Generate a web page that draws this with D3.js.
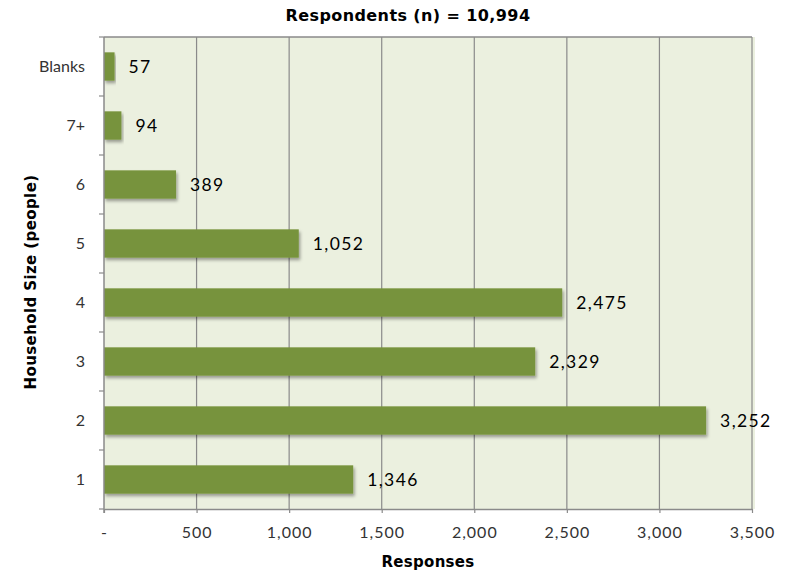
<!DOCTYPE html>
<html>
<head>
<meta charset="utf-8">
<script src="https://cdn.jsdelivr.net/npm/d3@7"></script>
<style>
  html, body { margin: 0; padding: 0; background: #ffffff; }
  svg { display: block; }
  .tick text { font-family: "Lato", "Open Sans", sans-serif; }
</style>
</head>
<body>
<svg id="chart" width="789" height="573"></svg>
<script>
// Household size categories, top to bottom
const categories = ["Blanks", "7+", "6", "5", "4", "3", "2", "1"];
// Number of responses per category
const responses = [57, 94, 389, 1052, 2475, 2329, 3252, 1346];
// X axis tick values and labels
const xTicks = [0, 500, 1000, 1500, 2000, 2500, 3000, 3500];
const xTickLabels = ["-", "500", "1,000", "1,500", "2,000", "2,500", "3,000", "3,500"];

const svg = d3.select("#chart");
const margin = { top: 37, right: 37, bottom: 64, left: 104 };
const width = 789 - margin.left - margin.right;
const height = 573 - margin.top - margin.bottom;

const defs = svg.append("defs");
const shadow = defs.append("filter").attr("id", "barShadow")
  .attr("x", "-5%").attr("y", "-20%").attr("width", "115%").attr("height", "160%");
shadow.append("feDropShadow").attr("dx", 1.5).attr("dy", 2.5)
  .attr("stdDeviation", 1.6).attr("flood-color", "#000").attr("flood-opacity", 0.35);

const g = svg.append("g").attr("transform", `translate(${margin.left},${margin.top})`);

const x = d3.scaleLinear().domain([0, 3500]).range([0, width]);
const y = d3.scaleBand().domain(categories).range([0, height]).paddingInner(0.52).paddingOuter(0.26);

// Plot background
g.append("rect").attr("x", 0).attr("y", 0).attr("width", width + 3).attr("height", height)
  .attr("fill", "#ebf0df");

// Vertical gridlines
g.append("g").selectAll("line").data(xTicks.slice(1)).join("line")
  .attr("x1", d => x(d)).attr("x2", d => x(d))
  .attr("y1", 0).attr("y2", height)
  .attr("stroke", "#8a8a8a").attr("stroke-width", 1.2);

// Top border
g.append("line").attr("x1", 0).attr("x2", width).attr("y1", 0).attr("y2", 0)
  .attr("stroke", "#8a8a8a").attr("stroke-width", 1.5);

// Bars
g.append("g").selectAll("rect").data(categories).join("rect")
  .attr("x", 0)
  .attr("y", d => y(d))
  .attr("width", (d, i) => x(responses[i]))
  .attr("height", y.bandwidth())
  .attr("fill", "#77933c")
  .attr("filter", "url(#barShadow)");

// Value labels
g.append("g").selectAll("text").data(categories).join("text")
  .attr("x", (d, i) => x(responses[i]) + 14)
  .attr("y", d => y(d) + y.bandwidth() / 2)
  .attr("dy", "0.36em")
  .attr("font-family", "Lato, 'Open Sans', sans-serif")
  .attr("font-size", 17.5)
  .attr("letter-spacing", "1.4px")
  .attr("fill", "#000")
  .text((d, i) => d3.format(",")(responses[i]));

// X axis
const xAxis = d3.axisBottom(x).tickValues(xTicks)
  .tickFormat((d, i) => xTickLabels[i]).tickSizeInner(4).tickSizeOuter(0).tickPadding(14);
const gx = g.append("g").attr("transform", `translate(0,${height})`).call(xAxis);
gx.select(".domain").attr("stroke", "#8a8a8a").attr("stroke-width", 1.5);
gx.selectAll(".tick line").attr("stroke", "#8a8a8a").attr("stroke-width", 1.2);
gx.selectAll(".tick text").attr("font-size", 16).attr("fill", "#333").attr("letter-spacing", "1px");

// Y axis: ticks sit on the band boundaries
const boundaries = d3.range(categories.length + 1).map(i => i * height / categories.length);
const gy = g.append("g");
gy.append("line").attr("x1", 0).attr("x2", 0).attr("y1", 0).attr("y2", height + 4)
  .attr("stroke", "#8a8a8a").attr("stroke-width", 1.5);
gy.selectAll("line.bt").data(boundaries).join("line").attr("class", "bt")
  .attr("x1", -5).attr("x2", 0).attr("y1", d => d).attr("y2", d => d)
  .attr("stroke", "#8a8a8a").attr("stroke-width", 1.2);
gy.selectAll("text").data(categories).join("text")
  .attr("x", -19)
  .attr("y", d => y(d) + y.bandwidth() / 2)
  .attr("dy", "0.36em")
  .attr("text-anchor", "end")
  .attr("font-family", "Lato, 'Open Sans', sans-serif")
  .attr("font-size", 16)
  .attr("fill", "#333")
  .text(d => d);

// Title
svg.append("text").attr("x", 408).attr("y", 21)
  .attr("text-anchor", "middle")
  .attr("font-family", "'DejaVu Sans', sans-serif").attr("font-weight", "bold")
  .attr("font-size", 16).attr("letter-spacing", "0.4px").attr("fill", "#000")
  .text("Respondents (n) = 10,994");

// X axis title
svg.append("text").attr("x", margin.left + width / 2).attr("y", 567)
  .attr("text-anchor", "middle")
  .attr("font-family", "'DejaVu Sans', sans-serif").attr("font-weight", "bold")
  .attr("font-size", 15).attr("letter-spacing", "0.3px").attr("fill", "#000")
  .text("Responses");

// Y axis title
svg.append("text")
  .attr("transform", `translate(36,${margin.top + height / 2 + 9}) rotate(-90)`)
  .attr("text-anchor", "middle")
  .attr("font-family", "'DejaVu Sans', sans-serif").attr("font-weight", "bold")
  .attr("font-size", 15).attr("letter-spacing", "0.4px").attr("fill", "#000")
  .text("Household Size (people)");
</script>
</body>
</html>
